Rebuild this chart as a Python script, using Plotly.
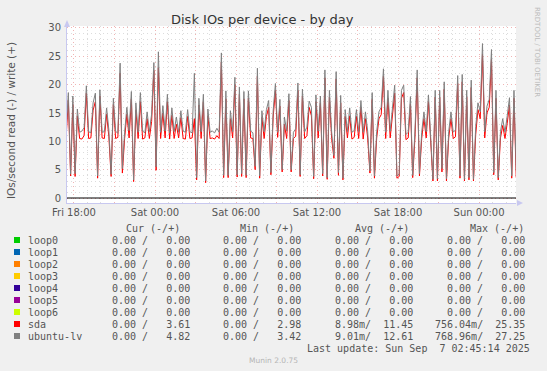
import plotly.graph_objects as go
import pandas as pd

# ---------------- data ----------------
start_time = "2025-09-05 17:25"
step = "10min"

ubuntu_lv = [11.8,18.6,4.2,18.0,4.3,15.7,11.6,11.8,12.4,19.8,
 11.7,11.5,16.8,18.5,3.9,19.1,11.6,11.7,15.9,12.0,
 4.2,17.6,11.8,11.4,23.8,5.2,11.6,16.0,11.9,18.8,
 3.2,16.8,11.6,18.6,11.8,11.5,15.2,11.7,14.8,23.9,
 5.5,25.8,11.6,16.3,11.8,18.3,11.5,15.9,11.7,14.3,
 11.6,15.4,11.8,11.6,15.6,11.7,11.5,22.0,3.6,17.6,
 11.7,18.3,3.0,15.7,11.6,11.8,11.5,12.3,11.6,25.6,
 4.0,18.9,4.0,15.4,11.7,21.3,4.1,19.6,4.3,18.8,
 4.0,18.9,11.8,11.5,5.6,22.9,3.9,15.4,11.7,15.6,
 17.2,4.5,15.4,20.2,11.6,17.4,5.0,14.3,11.8,18.4,
 5.0,11.6,12.2,20.3,4.1,19.2,11.7,12.5,17.1,16.0,
 3.8,18.2,11.8,18.0,4.3,22.6,3.6,19.0,11.6,7.5,
 22.3,4.5,18.1,3.5,15.6,11.7,15.9,11.6,11.9,15.6,
 11.7,17.2,11.6,15.2,11.8,4.8,18.6,3.9,11.7,15.2,
 16.0,22.8,11.6,19.0,11.8,15.9,19.9,3.9,4.2,19.0,
 19.9,11.2,11.6,17.9,4.0,11.8,22.6,4.3,11.6,15.2,
 11.7,18.2,11.5,3.3,19.0,3.4,19.0,5.2,20.5,3.4,
 11.7,15.2,11.6,12.0,21.6,3.9,21.8,3.3,19.0,3.6,
 20.8,3.3,12.6,16.8,15.2,27.25,11.7,16.2,17.4,26.2,
 4.5,19.0,3.6,11.7,14.0,11.6,14.5,17.7,3.9,19.0,
 4.82]

sda = [10.6,17.3,3.9,16.5,3.8,14.5,10.5,10.4,11.0,18.5,
 10.5,10.6,15.5,17.0,3.5,18.0,10.6,10.5,14.8,10.8,
 3.8,16.5,10.5,10.7,22.0,4.4,10.5,14.8,10.6,17.5,
 2.9,15.5,10.5,17.0,10.4,10.6,14.0,10.5,13.5,22.5,
 4.9,23.0,10.5,15.0,10.6,17.0,10.4,14.6,10.5,13.0,
 10.6,14.2,10.5,10.4,14.4,10.5,10.6,14.0,3.2,16.4,
 10.5,17.0,2.7,14.5,10.5,10.6,10.4,11.0,10.5,24.0,
 3.6,17.5,3.6,14.0,10.6,20.0,3.7,18.3,3.8,17.5,
 3.6,17.6,10.6,10.5,5.0,21.5,3.5,14.2,10.5,14.4,
 16.0,4.1,14.3,19.0,10.7,16.2,4.6,13.0,10.5,17.2,
 4.6,10.5,10.9,19.0,3.8,18.0,10.5,11.0,16.0,14.5,
 3.4,17.0,10.6,16.8,3.9,21.2,3.3,17.8,10.5,7.0,
 21.0,4.0,16.8,3.2,14.4,10.6,14.5,10.4,10.7,14.4,
 10.5,16.0,10.4,14.0,10.6,4.4,17.4,3.5,10.6,14.0,
 14.7,21.5,10.5,17.6,10.6,14.6,18.5,3.5,3.8,17.6,
 18.6,10.3,10.6,16.6,3.6,10.6,21.2,3.9,10.5,14.0,
 10.6,17.0,10.4,3.0,17.8,3.0,17.8,4.6,19.2,3.0,
 10.6,14.0,10.5,10.8,20.2,3.5,20.5,3.0,17.8,3.2,
 19.5,3.0,11.2,15.6,14.0,25.35,10.6,15.0,16.0,24.5,
 4.1,17.6,3.2,10.6,12.8,10.5,13.2,16.4,3.5,17.6,
 3.61]

x_tick_vals = ["2025-09-05 18:00", "2025-09-05 21:00", "2025-09-06 00:00", "2025-09-06 03:00",
               "2025-09-06 06:00", "2025-09-06 09:00", "2025-09-06 12:00", "2025-09-06 15:00",
               "2025-09-06 18:00", "2025-09-06 21:00", "2025-09-07 00:00"]
x_tick_text = ["Fri 18:00", "", "Sat 00:00", "", "Sat 06:00", "", "Sat 12:00", "",
               "Sat 18:00", "", "Sun 00:00"]
y_tick_vals = [0, 5, 10, 15, 20, 25, 30]

legend_names = ["loop0", "loop1", "loop2", "loop3", "loop4", "loop5", "loop6", "sda", "ubuntu-lv"]
legend_colors = ["#00cc00", "#0066b3", "#ff8000", "#ffcc00", "#330099", "#990099", "#ccff00", "#ff0000", "#808080"]
cur_read = ["0.00 "] * 9
cur_write = ["0.00"] * 7 + ["3.61", "4.82"]
min_read = ["0.00 "] * 9
min_write = ["0.00"] * 7 + ["2.98", "3.42"]
avg_read = ["0.00 "] * 7 + ["8.98m", "9.01m"]
avg_write = ["0.00"] * 7 + ["11.45", "12.61"]
max_read = ["0.00 "] * 7 + ["756.04m", "768.96m"]
max_write = ["0.00"] * 7 + ["25.35", "27.25"]
last_update = "Last update: Sun Sep  7 02:45:14 2025"

# ---------------- layout geometry ----------------
W, H = 547, 371
PL, PR, PT, PB = 67, 516, 26, 203   # plot area pixel box
x_range = ["2025-09-05 17:29", "2025-09-07 02:44"]
y_range = [-0.88, 30.35]

def px(x):
    return (x - PL) / (PR - PL)

def py(y):
    return (PB - y) / (PB - PT)

times = pd.date_range(start_time, periods=len(ubuntu_lv), freq=step)

fig = go.Figure()
fig.add_trace(go.Scatter(x=times, y=sda, mode="lines", line=dict(color="#ff0000", width=1),
                         showlegend=False, hoverinfo="skip"))
fig.add_trace(go.Scatter(x=times, y=ubuntu_lv, mode="lines", line=dict(color="#808080", width=1),
                         showlegend=False, hoverinfo="skip"))

MONO = "DejaVu Sans Mono"
TXT = "#555555"

fig.update_layout(
    width=W, height=H,
    margin=dict(l=PL, r=W - PR, t=PT, b=H - PB, pad=0),
    paper_bgcolor="#f0f0f0", plot_bgcolor="#ffffff",
    font=dict(family="DejaVu Sans", size=10, color=TXT),
    showlegend=False,
    xaxis=dict(
        type="date", range=x_range, tickmode="array", tickvals=x_tick_vals, ticktext=x_tick_text,
        showgrid=True, gridcolor="#f0b4b4", griddash="1px,3px", gridwidth=1,
        minor=dict(dtick=3600000, tick0="2025-09-05 18:00", showgrid=True, gridcolor="#dcdcdc",
                   griddash="1px,3px", gridwidth=1),
        showline=True, linecolor="#c8c8f0", linewidth=1,
        ticks="", tickfont=dict(size=10, color=TXT, family="DejaVu Sans"),
        zeroline=False, fixedrange=True,
    ),
    yaxis=dict(
        range=y_range, tickmode="array", tickvals=y_tick_vals,
        showgrid=True, gridcolor="#f0b4b4", griddash="1px,3px", gridwidth=1,
        minor=dict(dtick=1, tick0=0, showgrid=True, gridcolor="#dcdcdc", griddash="1px,3px", gridwidth=1),
        showline=True, linecolor="#c8c8f0", linewidth=1,
        ticks="outside", ticklen=3, tickcolor="rgba(0,0,0,0)",
        tickfont=dict(size=10, color=TXT, family="DejaVu Sans"),
        zeroline=False, fixedrange=True,
    ),
)

shapes = []
# zero line
shapes.append(dict(type="line", xref="paper", yref="y", x0=0, x1=1, y0=0, y1=0,
                   line=dict(color="#000000", width=1)))
# axis arrows
shapes.append(dict(type="path", xref="paper", yref="paper",
                   path=f"M {px(64)} {py(27)} L {px(67)} {py(20)} L {px(70)} {py(27)} Z",
                   fillcolor="#c8c8f0", line=dict(width=0)))
shapes.append(dict(type="path", xref="paper", yref="paper",
                   path=f"M {px(517)} {py(200)} L {px(523)} {py(203)} L {px(517)} {py(206)} Z",
                   fillcolor="#c8c8f0", line=dict(width=0)))

ann = []
ann.append(dict(text="Disk IOs per device - by day", x=px(262), y=py(19), xref="paper", yref="paper",
                showarrow=False, xanchor="center", yanchor="middle",
                font=dict(family="DejaVu Sans", size=13, color="#333333")))
ann.append(dict(text="IOs/second read (-) / write (+)", x=px(11), y=py(121), xref="paper", yref="paper",
                showarrow=False, textangle=-90, xanchor="center", yanchor="middle",
                font=dict(family="DejaVu Sans", size=10.5, color=TXT)))
ann.append(dict(text="RRDTOOL / TOBI OETIKER", x=px(537), y=py(52), xref="paper", yref="paper",
                showarrow=False, textangle=90, xanchor="center", yanchor="middle",
                font=dict(family="DejaVu Sans", size=7, color="#bbbbbb")))

# legend header
headers = [("Cur (-/+)", 182), ("Min (-/+)", 296), ("Avg (-/+)", 411), ("Max (-/+)", 526)]
for txt, xr in headers:
    ann.append(dict(text=txt.replace(" ", "&nbsp;"), x=px(xr), y=py(228), xref="paper", yref="paper",
                    showarrow=False, xanchor="right", yanchor="middle",
                    font=dict(family=MONO, size=10, color=TXT)))

row_y0, row_dy = 240, 12
for i, name in enumerate(legend_names):
    yy = row_y0 + i * row_dy
    shapes.append(dict(type="rect", xref="paper", yref="paper",
                       x0=px(14), x1=px(20), y0=py(yy + 3), y1=py(yy - 3),
                       fillcolor=legend_colors[i], line=dict(width=0)))
    ann.append(dict(text=name, x=px(26), y=py(yy), xref="paper", yref="paper",
                    showarrow=False, xanchor="left", yanchor="middle",
                    font=dict(family=MONO, size=10, color=TXT)))
    groups = [(cur_read[i], cur_write[i], 192), (min_read[i], min_write[i], 303),
              (avg_read[i], avg_write[i], 415), (max_read[i], max_write[i], 527)]
    for r, w_, xr in groups:
        s = f"{r}/{w_:>7}"
        ann.append(dict(text=s.replace(" ", "&nbsp;"), x=px(xr), y=py(yy), xref="paper", yref="paper",
                        showarrow=False, xanchor="right", yanchor="middle",
                        font=dict(family=MONO, size=10, color=TXT)))

ann.append(dict(text=last_update.replace(" ", "&nbsp;"), x=px(532), y=py(348), xref="paper", yref="paper",
                showarrow=False, xanchor="right", yanchor="middle",
                font=dict(family=MONO, size=10, color=TXT)))
ann.append(dict(text="Munin 2.0.75", x=px(273), y=py(360), xref="paper", yref="paper",
                showarrow=False, xanchor="center", yanchor="middle",
                font=dict(family="DejaVu Sans", size=7.5, color="#b5b5b5")))

fig.update_layout(shapes=shapes, annotations=ann)
fig.write_html("out.html")
